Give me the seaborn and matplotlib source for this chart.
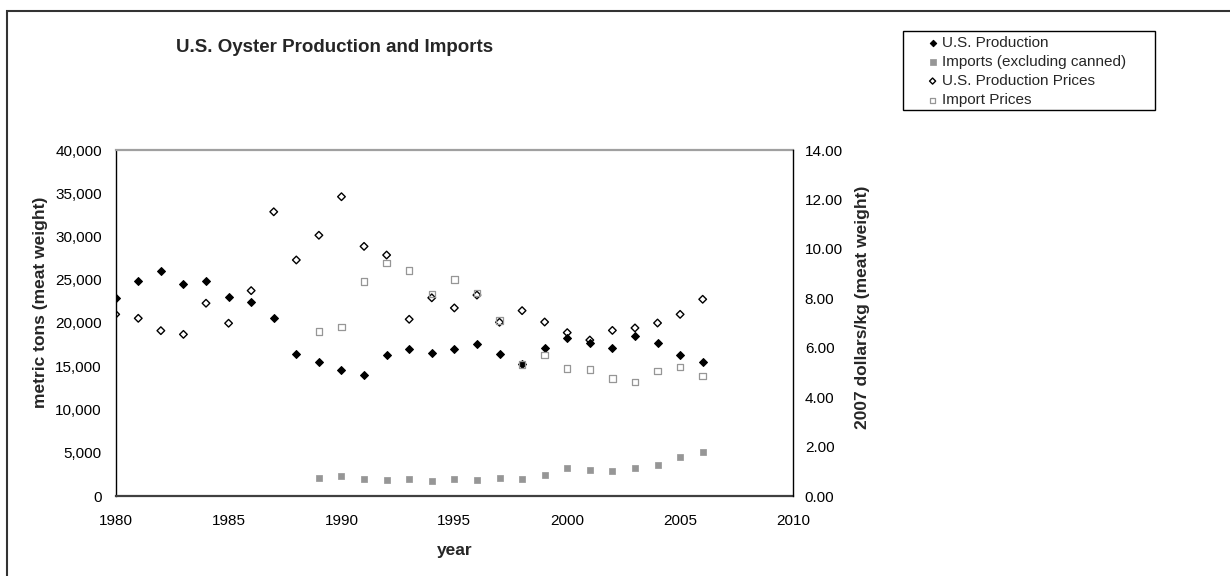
import numpy as np
import pandas as pd
import matplotlib
matplotlib.use("Agg")
import matplotlib.pyplot as plt
from matplotlib.patches import Rectangle
from matplotlib.ticker import FuncFormatter, MultipleLocator
import seaborn as sns

# ---- data ----
years = list(range(1980, 2007))
us_production = [22850, 24850, 26000, 24550, 24850, 22970, 22390, 20540, 16420,
                 15530, 14530, 13950, 16260, 16950, 16530, 16950, 17570, 16420,
                 15260, 17150, 18230, 17720, 17110, 18530, 17690, 16260, 15530]
us_prod_prices = [7.35, 7.19, 6.69, 6.54, 7.80, 6.99, 8.31, 11.50, 9.55, 10.55,
                  12.11, 10.10, 9.75, 7.15, 8.02, 7.61, 8.13, 7.03, 7.50, 7.04,
                  6.61, 6.31, 6.70, 6.80, 7.00, 7.35, 7.96]
import_years = list(range(1989, 2007))
imports = [2115, 2275, 1965, 1850, 1965, 1700, 1965, 1850, 2115, 1965, 2430,
           3270, 2970, 2855, 3270, 3585, 4545, 5120]
import_prices = [6.66, 6.83, 8.67, 9.43, 9.13, 8.17, 8.77, 8.21, 7.11, 5.33,
                 5.70, 5.15, 5.11, 4.75, 4.61, 5.06, 5.22, 4.86]

series_labels = ["U.S. Production", "Imports (excluding canned)",
                 "U.S. Production Prices", "Import Prices"]
x_ticks = [1980, 1985, 1990, 1995, 2000, 2005, 2010]

df_us = pd.DataFrame({"year": years, "production": us_production,
                      "price": us_prod_prices})
df_imp = pd.DataFrame({"year": import_years, "imports": imports,
                       "price": import_prices})

sns.set_theme(style="white")
plt.rcParams["font.family"] = ["Liberation Sans", "DejaVu Sans"]

W, H = 1230, 576
fig = plt.figure(figsize=(W / 100, H / 100), dpi=100)
fig.patch.set_facecolor("white")
ax = fig.add_axes([115.7 / W, 1 - 496 / H, (793 - 115.7) / W, (496 - 150) / H])
ax2 = ax.twinx()

grey = "#969696"

sns.scatterplot(data=df_us, x="year", y="production", ax=ax, marker="D",
                s=16, color="black", edgecolor="black", linewidth=0.8,
                label=series_labels[0], legend=False)
sns.scatterplot(data=df_imp, x="year", y="imports", ax=ax, marker="s",
                s=24, color=grey, edgecolor=grey, linewidth=0.5,
                label=series_labels[1], legend=False)
sns.scatterplot(data=df_us, x="year", y="price", ax=ax2, marker="D",
                s=15, facecolor="none", edgecolor="black", linewidth=1.0,
                label=series_labels[2], legend=False)
sns.scatterplot(data=df_imp, x="year", y="price", ax=ax2, marker="s",
                s=22, facecolor="none", edgecolor=grey, linewidth=0.9,
                label=series_labels[3], legend=False)

ax.set_xlim(1980, 2010)
ax.set_ylim(0, 40000)
ax2.set_ylim(0, 14)
ax.set_xticks(x_ticks)
ax.yaxis.set_major_locator(MultipleLocator(5000))
ax2.yaxis.set_major_locator(MultipleLocator(2))
ax.yaxis.set_major_formatter(FuncFormatter(lambda v, p: f"{v:,.0f}"))
ax2.yaxis.set_major_formatter(FuncFormatter(lambda v, p: f"{v:.2f}"))
ax.set_xlabel("")
ax.set_ylabel("")
ax2.set_ylabel("")
ax.grid(False)
ax2.grid(False)

ax.tick_params(axis="x", length=0, pad=13, labelsize=11, colors="black")
ax.tick_params(axis="y", length=0, pad=10, labelsize=11, colors="black")
ax2.tick_params(axis="y", length=0, pad=8.5, labelsize=11, colors="black")

for s in ["left", "right", "top", "bottom"]:
    ax.spines[s].set_visible(False)
    ax2.spines[s].set_visible(False)
ax.spines["left"].set_visible(True)
ax.spines["left"].set_color("black")
ax.spines["left"].set_linewidth(1.0)
ax.spines["bottom"].set_visible(True)
ax.spines["bottom"].set_color("#404040")
ax.spines["bottom"].set_linewidth(1.6)
ax.spines["top"].set_visible(True)
ax.spines["top"].set_color("#a0a0a0")
ax.spines["top"].set_linewidth(1.6)
ax2.spines["right"].set_visible(True)
ax2.spines["right"].set_color("black")
ax2.spines["right"].set_linewidth(1.0)

# titles
fig.text(335 / W, 1 - 51.5 / H, "U.S. Oyster Production and Imports",
         ha="center", va="baseline", fontsize=13.5, fontweight="bold")
fig.text(40 / W, 1 - 302 / H, "metric tons (meat weight)", rotation=90,
         ha="center", va="center", fontsize=12.5, fontweight="bold")
fig.text(862 / W, 1 - 307 / H, "2007 dollars/kg (meat weight)", rotation=90,
         ha="center", va="center", fontsize=12.5, fontweight="bold")
fig.text(455 / W, 1 - 555 / H, "year", ha="center", va="baseline",
         fontsize=12.5, fontweight="bold")

# outer chart frame (clipped at right and bottom in the reference)
fig.add_artist(Rectangle((7.3 / W, -0.1), 1.2, 1.1 - 10.7 / H,
                         transform=fig.transFigure, fill=False,
                         edgecolor="#333333", linewidth=1.5, clip_on=False))

# legend
h1, l1 = ax.get_legend_handles_labels()
h2, l2 = ax2.get_legend_handles_labels()
fig.add_artist(Rectangle((903 / W, 1 - 110 / H), (1155 - 903) / W, (110 - 31) / H,
                         transform=fig.transFigure, fill=False,
                         edgecolor="black", linewidth=1.0))
leg = fig.legend(h1 + h2, l1 + l2, loc="upper left",
                 bbox_to_anchor=(928 / W, 1 - 36 / H), frameon=False,
                 fontsize=11, handlelength=0.6, handletextpad=0.3,
                 labelspacing=0.33, borderpad=0, borderaxespad=0,
                 scatterpoints=1, markerscale=0.8)

fig.savefig("out.png", dpi=100, facecolor="white")
